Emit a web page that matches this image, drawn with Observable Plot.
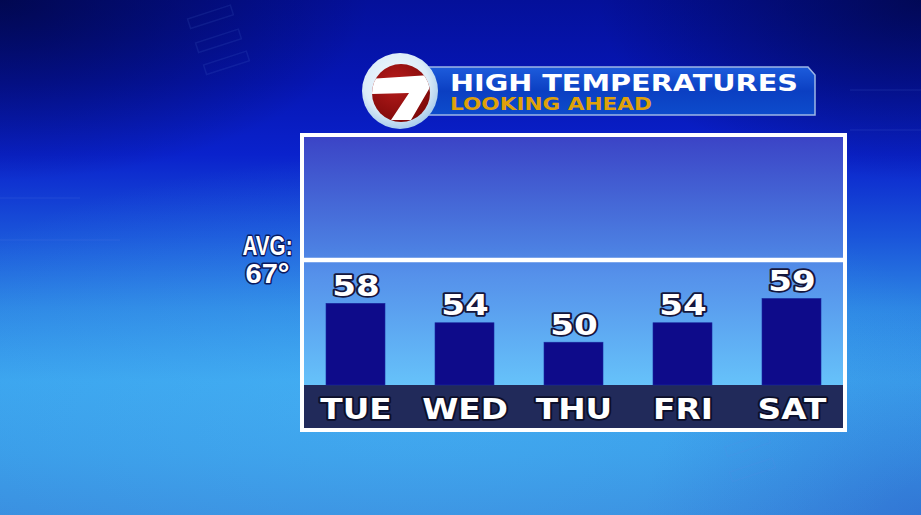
<!DOCTYPE html>
<html>
<head>
<meta charset="utf-8">
<script src="https://cdn.jsdelivr.net/npm/d3@7"></script>
<script src="https://cdn.jsdelivr.net/npm/@observablehq/plot@0.6"></script>
<style>
  html, body { margin: 0; padding: 0; }
  body { width: 921px; height: 515px; overflow: hidden; position: relative;
    background:
      radial-gradient(ellipse 40% 35% at 0% 0%, rgba(0,4,50,0.7), rgba(0,4,50,0) 100%),
      radial-gradient(ellipse 35% 35% at 100% 0%, rgba(0,4,50,0.65), rgba(0,4,50,0) 100%),
      radial-gradient(ellipse 60% 45% at 45% 75%, rgba(80,190,250,0.35), rgba(80,190,250,0) 100%),
      radial-gradient(ellipse 30% 40% at 100% 100%, rgba(40,90,200,0.45), rgba(40,90,200,0) 100%),
      linear-gradient(180deg, #04109a 0%, #0616b4 16%, #0a22cc 30%, #1a55da 46%, #2d86e4 60%, #3ba4ee 74%, #3a9ce8 88%, #3a8fe0 100%);
  }
  #chart { position: absolute; left: 0; top: 0; }
  .layer { position: absolute; left: 0; top: 0; }
</style>
</head>
<body>
<svg class="layer" width="921" height="515" id="under">
  <defs>
    <linearGradient id="boxFill" x1="0" y1="0" x2="0" y2="1">
      <stop offset="0" stop-color="#3b44c6"/>
      <stop offset="0.45" stop-color="#4c80e2"/>
      <stop offset="0.55" stop-color="#5590ea"/>
      <stop offset="1" stop-color="#66c2fa"/>
    </linearGradient>
  </defs>
  <g stroke="#5f8ee8" stroke-opacity="0.12" fill="none" stroke-width="1.5">
    <path d="M0,198 L80,198"/><path d="M0,240 L120,240"/><path d="M850,90 L921,90"/><path d="M850,130 L921,130"/>
    <rect x="188" y="12" width="45" height="10" transform="rotate(-18 210 17)"/>
    <rect x="196" y="36" width="45" height="10" transform="rotate(-18 218 41)"/>
    <rect x="204" y="58" width="45" height="10" transform="rotate(-18 226 63)"/>
    <rect x="725" y="440" width="45" height="10" transform="rotate(-18 747 445)"/>
    <rect x="730" y="465" width="45" height="10" transform="rotate(-18 752 470)"/>
  </g>
  <rect x="302" y="135" width="543" height="295" fill="none" stroke="#ffffff" stroke-width="4"/>
  <rect x="304" y="137" width="539" height="248" fill="url(#boxFill)"/>
  <rect x="304" y="385" width="539" height="43" fill="#212a5a"/>
</svg>
<div id="chart"></div>
<svg class="layer" width="921" height="515" id="over">
  <defs>
    <linearGradient id="banner" x1="0" y1="0" x2="0" y2="1">
      <stop offset="0" stop-color="#1d5cdc"/>
      <stop offset="0.5" stop-color="#0b3fc2"/>
      <stop offset="1" stop-color="#0d4ccc"/>
    </linearGradient>
    <radialGradient id="ring" cx="0.45" cy="0.4" r="0.6">
      <stop offset="0" stop-color="#f4fbff"/>
      <stop offset="0.7" stop-color="#dcecf8"/>
      <stop offset="1" stop-color="#a9cdec"/>
    </radialGradient>
    <radialGradient id="red" cx="0.4" cy="0.35" r="0.7">
      <stop offset="0" stop-color="#b81c1c"/>
      <stop offset="1" stop-color="#7c0808"/>
    </radialGradient>
    <clipPath id="redClip"><circle cx="401" cy="93" r="29"/></clipPath>
  </defs>
  <path d="M425,67 L808,67 L815,75 L815,115 L425,115 Z" fill="url(#banner)" stroke="#9db6e6" stroke-width="1.5"/>
  <text x="450" y="90.5" font-family="DejaVu Sans" font-weight="bold" font-size="23" fill="#ffffff" textLength="348" lengthAdjust="spacingAndGlyphs">HIGH TEMPERATURES</text>
  <text x="450" y="110" font-family="DejaVu Sans" font-weight="bold" font-size="17" fill="#dfa10a" textLength="202" lengthAdjust="spacingAndGlyphs">LOOKING AHEAD</text>
  <circle cx="400" cy="91" r="38" fill="url(#ring)"/>
  <circle cx="401" cy="93" r="29" fill="url(#red)"/>
  <path clip-path="url(#redClip)" d="M368,79 L430,75 L429,89 L411,120 L391,120 L409,93 L368,94 Z" fill="#ffffff"/>
</svg>
<script>
// ---- data ----
const days = ["TUE", "WED", "THU", "FRI", "SAT"];
const highs = [58, 54, 50, 54, 59];
const avgHigh = 67;
const avgLabel = "AVG:";
const yDomain = [41.2, 92.2];

const table = days.map((day, i) => ({day, high: highs[i]}));
const base = yDomain[0];

const font = "DejaVu Sans";
const chart = Plot.plot({
  width: 921,
  height: 515,
  margin: 0,
  style: {background: "transparent", overflow: "visible"},
  x: {type: "band", domain: days, range: [299, 849], paddingInner: 0.4545, paddingOuter: 0.2273, axis: null},
  y: {domain: yDomain, range: [385, 137], axis: null},
  marks: [
    Plot.ruleY([avgHigh], {stroke: "#ffffff", strokeWidth: 4.5, insetLeft: 304, insetRight: 78}),
    Plot.barY(table, {x: "day", y1: base, y2: "high", fill: "#0e0b8a", stroke: "#1a2aa0", strokeWidth: 0.6}),
    Plot.text(table, {x: "day", y: "high", text: d => String(d.high), dy: -8, lineAnchor: "bottom",
      fill: "#ffffff", stroke: "#15163c", strokeWidth: 3.5, fontSize: 28, fontWeight: "bold", fontFamily: font}),
    Plot.text(table, {x: "day", y: base, text: "day", dy: 33, lineAnchor: "bottom",
      fill: "#ffffff", stroke: "#0c0f2a", strokeWidth: 3.5, fontSize: 28, fontWeight: "bold", fontFamily: font}),
    Plot.text([avgHigh], {y: d => d, frameAnchor: "left", dx: 292, dy: -5.5, textAnchor: "end", lineAnchor: "bottom",
      text: () => avgLabel, fill: "#ffffff", stroke: "#0a1a60", strokeWidth: 3, fontSize: 27, fontWeight: "bold",
      fontFamily: "Liberation Sans"}),
    Plot.text([avgHigh], {y: d => d, frameAnchor: "left", dx: 289, dy: 22.5, textAnchor: "end", lineAnchor: "bottom",
      text: d => `${d}°`, fill: "#ffffff", stroke: "#0a1a60", strokeWidth: 3, fontSize: 27, fontWeight: "bold",
      fontFamily: "Liberation Sans"})
  ]
});
document.getElementById("chart").appendChild(chart);

// stretch / condense glyphs to mimic the broadcast typeface
const textGroups = chart.querySelectorAll('g[aria-label="text"]');
function fit(group, fn) {
  group.querySelectorAll("text").forEach(t => {
    const w = t.getComputedTextLength();
    t.setAttribute("textLength", fn(w).toFixed(1));
    t.setAttribute("lengthAdjust", "spacingAndGlyphs");
  });
}
fit(textGroups[0], w => w * 1.22);
fit(textGroups[1], w => w * 1.17);
fit(textGroups[2], w => 50);
fit(textGroups[3], w => 44);
</script>
</body>
</html>
